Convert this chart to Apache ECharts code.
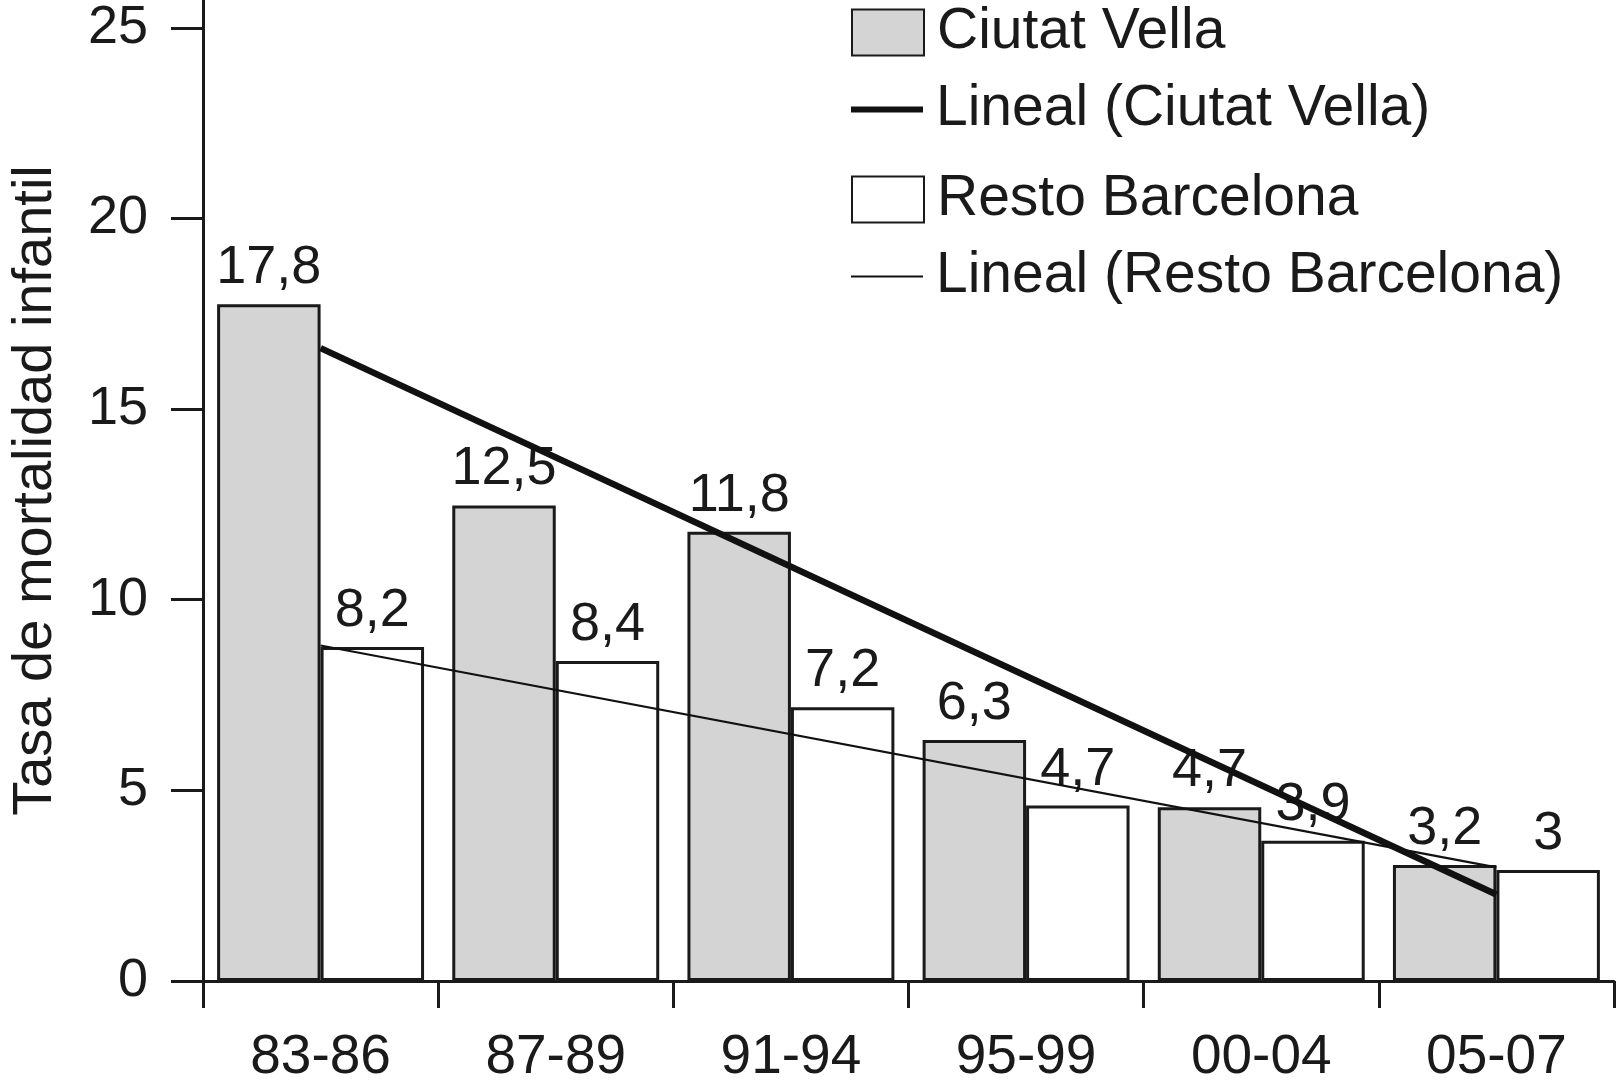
<!DOCTYPE html>
<html>
<head>
<meta charset="utf-8">
<script src="https://cdn.jsdelivr.net/npm/echarts@6/dist/echarts.min.js"></script>
<style>
html,body{margin:0;padding:0;background:#fff;}
#chart{width:1617px;height:1090px;}
</style>
</head>
<body>
<div id="chart"></div>
<script>
// ---- data ----
const categories = ['83-86', '87-89', '91-94', '95-99', '00-04', '05-07'];
const ciutatVella = [17.75, 12.47, 11.78, 6.32, 4.56, 3.04];
const ciutatVellaLabels = ['17,8', '12,5', '11,8', '6,3', '4,7', '3,2'];
const restoBarcelona = [8.76, 8.39, 7.18, 4.6, 3.68, 2.91];
const restoBarcelonaLabels = ['8,2', '8,4', '7,2', '4,7', '3,9', '3'];
// trend lines as drawn (first and last category only)
const trendCiutatVella = [16.6, null, null, null, null, 2.27];
const trendResto = [8.8, null, null, null, null, 2.98];
const yTicks = [0, 5, 10, 15, 20, 25];

const FONT = "'Liberation Sans', Arial, Helvetica, sans-serif";
const INK = '#1a1a1a';

const chart = echarts.init(document.getElementById('chart'), null, {renderer: 'canvas'});

function legendAt(name, top, h) {
  return {
    data: [{name: name, icon: 'rect'}],
    left: 851,
    top: top,
    padding: 0,
    itemWidth: 72,
    itemHeight: h,
    selectedMode: false,
    textStyle: {fontFamily: FONT, fontSize: 57, color: INK, padding: [0, 0, 0, 8]}
  };
}

const option = {
  animation: false,
  backgroundColor: '#ffffff',
  legend: [
    legendAt('Ciutat Vella', 4, 46),
    legendAt('Lineal (Ciutat Vella)', 81, 6),
    legendAt('Resto Barcelona', 171, 46),
    legendAt('Lineal (Resto Barcelona)', 248, 2)
  ],
  grid: {left: 203, right: 3, top: 0, bottom: 109, containLabel: false, outerBoundsMode: 'none'},
  xAxis: {
    type: 'category',
    data: categories,
    boundaryGap: true,
    axisLine: {show: true, lineStyle: {color: INK, width: 3}},
    axisTick: {show: true, alignWithLabel: false, length: 27, lineStyle: {color: INK, width: 3}},
    axisLabel: {fontFamily: FONT, fontSize: 55, color: INK, margin: 49},
    splitLine: {show: false}
  },
  yAxis: {
    type: 'value',
    min: 0,
    max: 25.73,
    interval: 5,
    name: 'Tasa de mortalidad infantil',
    nameLocation: 'middle',
    nameGap: 139,
    nameRotate: 90,
    nameTextStyle: {fontFamily: FONT, fontSize: 56, color: INK},
    axisLine: {show: true, onZero: false, lineStyle: {color: INK, width: 3}},
    axisTick: {show: true, length: 32, customValues: yTicks, lineStyle: {color: INK, width: 3}},
    axisLabel: {fontFamily: FONT, fontSize: 54, color: INK, margin: 55, customValues: yTicks},
    splitLine: {show: false}
  },
  series: [
    {
      name: 'Ciutat Vella',
      type: 'bar',
      data: ciutatVella,
      barGap: '0%',
      barCategoryGap: '12%',
      itemStyle: {color: '#d4d4d4', borderColor: INK, borderWidth: 3},
      label: {
        show: true, position: 'top', distance: 9,
        fontFamily: FONT, fontSize: 54, color: INK,
        formatter: p => ciutatVellaLabels[p.dataIndex]
      },
      z: 2
    },
    {
      name: 'Resto Barcelona',
      type: 'bar',
      data: restoBarcelona,
      barGap: '0%',
      barCategoryGap: '12%',
      itemStyle: {color: '#ffffff', borderColor: INK, borderWidth: 3},
      label: {
        show: true, position: 'top', distance: 9,
        fontFamily: FONT, fontSize: 54, color: INK,
        formatter: p => restoBarcelonaLabels[p.dataIndex]
      },
      z: 2
    },
    {
      name: 'Lineal (Ciutat Vella)',
      type: 'line',
      data: trendCiutatVella,
      connectNulls: true,
      symbol: 'none',
      showSymbol: false,
      lineStyle: {color: '#111111', width: 6.5},
      itemStyle: {color: '#111111'},
      z: 5
    },
    {
      name: 'Lineal (Resto Barcelona)',
      type: 'line',
      data: trendResto,
      connectNulls: true,
      symbol: 'none',
      showSymbol: false,
      lineStyle: {color: '#111111', width: 2.2},
      itemStyle: {color: '#111111'},
      z: 5
    }
  ]
};

chart.setOption(option);
</script>
</body>
</html>
